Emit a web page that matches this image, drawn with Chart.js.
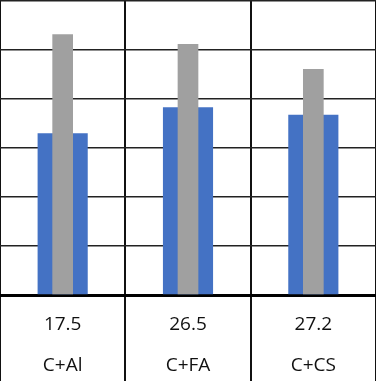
<!DOCTYPE html>
<html>
<head>
<meta charset="utf-8">
<script src="https://cdn.jsdelivr.net/npm/chart.js@4/dist/chart.umd.min.js"></script>
<style>
  html, body { margin: 0; padding: 0; background: #fff; }
  #wrap { width: 376px; height: 381px; }
</style>
</head>
<body>
<div id="wrap"><canvas id="myChart"></canvas></div>
<script>
var categories = ['C+Al', 'C+FA', 'C+CS'];
var tableValues = ['17.5', '26.5', '27.2'];
var seriesBlue = [33.0, 38.3, 36.8];
var seriesGray = [53.2, 51.2, 46.1];
var yMax = 60;
var yStep = 10;

// each x label is two lines: the table value above the category name
var labels = categories.map(function (c, i) { return [tableValues[i], c]; });

const ctx = document.getElementById('myChart');
new Chart(ctx, {
    type: 'bar',
    data: {
        labels: labels,
        datasets: [{
            label: 'gray',
            data: seriesGray,
            order: 0,
            backgroundColor: '#a0a0a0',
            barPercentage: 0.165,
            categoryPercentage: 1
        }, {
            label: 'blue',
            data: seriesBlue,
            order: 1,
            backgroundColor: '#4472c4',
            barPercentage: 0.40,
            categoryPercentage: 1
        }]
    },
    options: {
        responsive: true,
        maintainAspectRatio: false,
        animation: false,
        layout: { padding: { top: 1, left: 0, right: 0, bottom: 0 } },
        plugins: {
            legend: { display: false },
            tooltip: { enabled: false }
        },
        datasets: { bar: { grouped: false } },
        scales: {
            x: {
                grid: {
                    color: '#111',
                    lineWidth: 2,
                    tickLength: 86,
                    tickColor: '#111',
                    tickWidth: 2
                },
                border: { display: true, color: '#000', width: 3 },
                ticks: {
                    color: '#111',
                    padding: -77,
                    font: { family: 'Open Sans', size: 19, lineHeight: 2.17 },
                    maxRotation: 0
                },
                afterFit: function (scale) { scale.height = 86; }
            },
            y: {
                min: 0,
                max: yMax,
                ticks: { display: false, stepSize: yStep },
                grid: { color: '#222', lineWidth: 1.5, drawTicks: false },
                border: { display: false }
            }
        }
    }
});
</script>
</body>
</html>
